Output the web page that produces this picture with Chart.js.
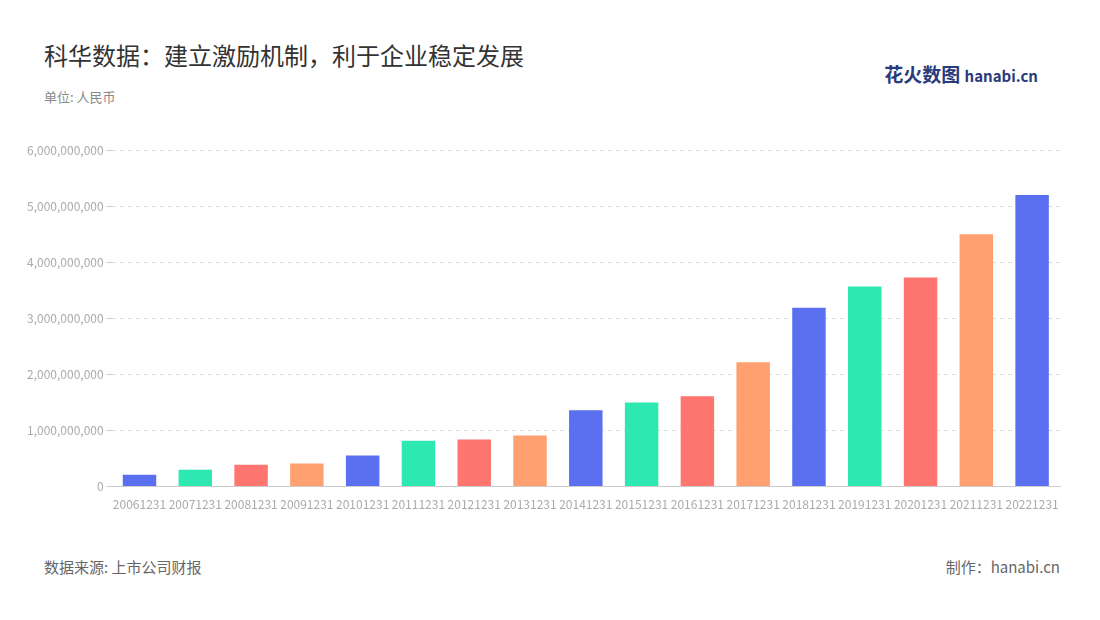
<!DOCTYPE html>
<html><head><meta charset="utf-8">
<script src="https://cdn.jsdelivr.net/npm/chart.js@4"></script>
<style>
body{margin:0;width:1100px;height:620px;background:#fff;font-family:"Noto Sans CJK SC","Noto Sans",sans-serif;position:relative;overflow:hidden}
#t{position:absolute;left:44px;top:37px;font-size:24px;color:#333}
#s{position:absolute;left:44px;top:87px;font-size:13px;color:#888}
#f1{position:absolute;left:44px;top:556px;font-size:15px;color:#666}
#f2{position:absolute;right:40px;top:556px;font-size:15px;color:#666}
#logo{position:absolute;right:62px;top:60px;font-size:19px;font-weight:bold;color:#2a3a7a}
#logo span{font-size:15px}
#c{position:absolute;left:24px;top:140px;width:1040px;height:375px}
</style></head><body>
<div id="t">科华数据：建立激励机制，利于企业稳定发展</div>
<div id="s">单位: 人民币</div>
<div id="logo">花火数图 <span>hanabi.cn</span></div>
<div id="c"><canvas id="cv"></canvas></div>
<div id="f1">数据来源: 上市公司财报</div>
<div id="f2">制作：hanabi.cn</div>
<script>
const categories=["20061231","20071231","20081231","20091231","20101231","20111231","20121231","20131231","20141231","20151231","20161231","20171231","20181231","20191231","20201231","20211231","20221231"];
const values=[210e6,300e6,390e6,410e6,555e6,820e6,840e6,910e6,1360e6,1500e6,1610e6,2220e6,3190e6,3570e6,3730e6,4500e6,5200e6];
const palette=["#5b70f0","#2de8b0","#ff7570","#ffa070"];
Chart.defaults.font.family='"Noto Sans CJK SC"';
new Chart(document.getElementById('cv'),{type:'bar',
data:{labels:categories,datasets:[{data:values,backgroundColor:values.map((v,i)=>palette[i%4]),categoryPercentage:0.6,barPercentage:1}]},
options:{responsive:true,maintainAspectRatio:false,animation:false,layout:{padding:{right:4}},
plugins:{legend:{display:false},tooltip:{enabled:false}},
scales:{
x:{grid:{display:false},border:{color:'#ccc'},ticks:{color:'#aaa',font:{size:12},maxRotation:0,autoSkip:false}},
y:{min:0,max:6e9,ticks:{stepSize:1e9,color:'#aaa',font:{size:12},callback:v=>v.toLocaleString('en-US')},
border:{display:false,dash:[4,4]},grid:{color:'#ddd',tickColor:'#ccc',tickLength:5}}
}}});
</script>
</body></html>
